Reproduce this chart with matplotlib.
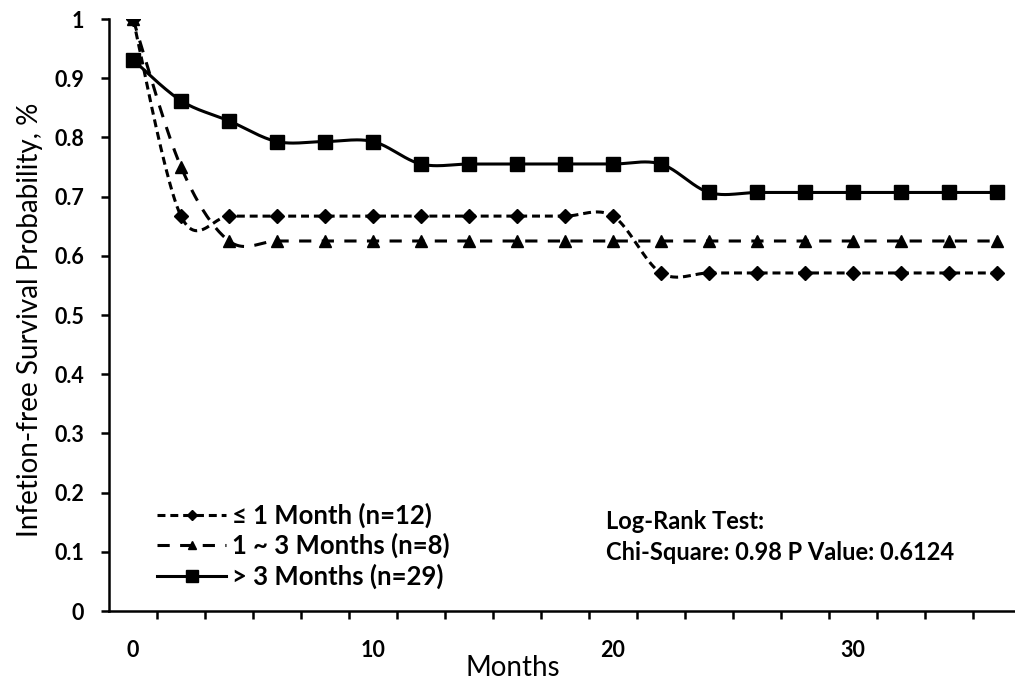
import numpy as np
import matplotlib.pyplot as plt
from matplotlib.lines import Line2D

plt.rcParams['font.family'] = ['Lato', 'DejaVu Sans']
plt.rcParams['font.weight'] = 'bold'

# data
months = [0, 2, 4, 6, 8, 10, 12, 14, 16, 18, 20, 22, 24, 26, 28, 30, 32, 34, 36]
surv_le1 = [1.0, 0.667, 0.667, 0.667, 0.667, 0.667, 0.667, 0.667, 0.667, 0.667,
            0.667, 0.571, 0.571, 0.571, 0.571, 0.571, 0.571, 0.571, 0.571]
surv_1to3 = [1.0, 0.75, 0.625, 0.625, 0.625, 0.625, 0.625, 0.625, 0.625, 0.625,
             0.625, 0.625, 0.625, 0.625, 0.625, 0.625, 0.625, 0.625, 0.625]
surv_gt3 = [0.931, 0.862, 0.828, 0.793, 0.793, 0.793, 0.755, 0.755, 0.755, 0.755,
            0.755, 0.755, 0.707, 0.707, 0.707, 0.707, 0.707, 0.707, 0.707]
labels = ['\u2264 1 Month (n=12)', '1 ~ 3 Months (n=8)', '> 3 Months (n=29)']


def smooth(x, y, n=25):
    # excel-like smoothed line (cubic bezier, catmull-rom control points)
    pts = np.column_stack([x, y]).astype(float)
    P = np.vstack([pts[0], pts, pts[-1]])
    out = []
    t = np.linspace(0, 1, n)[:, None]
    for i in range(1, len(P) - 2):
        p0, p1, p2, p3 = P[i-1], P[i], P[i+1], P[i+2]
        c1 = p1 + (p2 - p0) / 6
        c2 = p2 - (p3 - p1) / 6
        seg = (1-t)**3*p1 + 3*(1-t)**2*t*c1 + 3*(1-t)*t**2*c2 + t**3*p2
        out.append(seg if i == 1 else seg[1:])
    out = np.vstack(out)
    return out[:, 0], out[:, 1]


fig = plt.figure(figsize=(10.15, 6.83), dpi=100)
ax = fig.add_axes([109/1015, 72/683, 906/1015, 592/683])

lw = 2.2
styles = [
    dict(marker='D', ms=7, dashes=(2.6, 1.6)),
    dict(marker='^', ms=8, dashes=(4.0, 3.4)),
    dict(marker='s', ms=10, dashes=None),
]
handles = []
for ys, st, lab in zip([surv_le1, surv_1to3, surv_gt3], styles, labels):
    sx, sy = smooth(months, ys)
    line, = ax.plot(sx, sy, color='black', lw=lw)
    if st['dashes']:
        line.set_dashes(st['dashes'])
    ax.plot(months, ys, ls='none', marker=st['marker'], ms=st['ms'],
            color='black', zorder=3)
    h = Line2D([], [], color='black', lw=lw, marker=st['marker'],
               ms=st['ms'] * 0.8)
    if st['dashes']:
        h.set_dashes(st['dashes'])
    handles.append(h)

ax.set_xlim(-1, 36.75)
ax.set_ylim(0, 1)
ax.spines['top'].set_visible(False)
ax.spines['right'].set_visible(False)
for s in ['left', 'bottom']:
    ax.spines[s].set_linewidth(1.8)

ax.set_yticks(np.arange(0, 1.01, 0.1))
ax.set_yticklabels(['0', '0.1', '0.2', '0.3', '0.4', '0.5', '0.6', '0.7', '0.8', '0.9', '1'])
ax.tick_params(axis='y', length=6, width=1.8, pad=12, labelsize=15.5)
ax.set_xticks([0, 10, 20, 30])
ax.set_xticks(np.arange(1, 36, 2), minor=True)
ax.tick_params(axis='x', which='major', length=0, pad=21, labelsize=15.5)
ax.tick_params(axis='x', which='minor', length=6, width=1.8)

ax.set_ylabel('Infetion-free Survival Probability, %', fontsize=20,
              fontweight='normal')
ax.yaxis.set_label_coords(-(109-43)/906, (611-320)/592)
ax.set_xlabel('Months', fontsize=20, fontweight='normal')
ax.xaxis.set_label_coords((513-109)/906, -0.075)

ax.legend(handles, labels, loc='upper left', bbox_to_anchor=(0.053, 0.183),
          frameon=False, borderaxespad=0, borderpad=0, handlelength=2.7,
          handletextpad=0.2, labelspacing=0.2,
          prop={'weight': 'bold', 'size': 18.5})

ax.text(19.7, 0.152, 'Log-Rank Test:', fontsize=17, fontweight='bold', va='center')
ax.text(19.7, 0.098, 'Chi-Square: 0.98 P Value: 0.6124', fontsize=17,
        fontweight='bold', va='center')

fig.savefig('out.png', dpi=100)
